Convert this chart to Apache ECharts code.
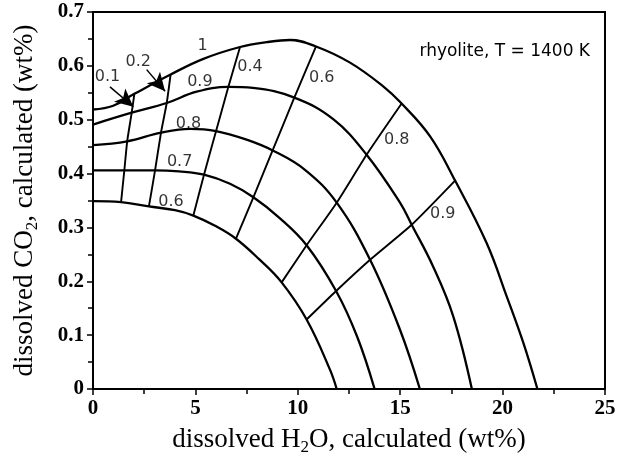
<!DOCTYPE html>
<html>
<head>
<meta charset="utf-8">
<script src="https://cdn.jsdelivr.net/npm/echarts@6/dist/echarts.min.js"></script>
<style>
  html, body { margin: 0; padding: 0; background: #fff; }
  #chart { width: 630px; height: 461px; }
</style>
</head>
<body>
<div id="chart"></div>
<script>
// Isobar labels (outer to inner) and isopleth labels (left to right)
const isobarNames = ['1', '0.9', '0.8', '0.7', '0.6'];
const isoplethNames = ['0.1', '0.2', '0.4', '0.6', '0.8', '0.9'];

// Grid nodes: where each isopleth crosses each isobar, [H2O wt%, CO2 wt%]
const nodes1  = [[2.02, 0.548], [3.79, 0.584], [7.18, 0.635], [10.89, 0.636], [15.07, 0.530], [17.68, 0.387]];
const nodes09 = [[1.89, 0.513], [3.60, 0.531], [6.61, 0.561], [9.83, 0.541], [13.36, 0.435], [15.56, 0.305]];
const nodes08 = [[1.67, 0.460], [3.32, 0.476], [6.01, 0.479], [8.77, 0.443], [11.90, 0.346], [13.53, 0.240]];
const nodes07 = [[1.53, 0.406], [3.03, 0.406], [5.42, 0.398], [7.83, 0.356], [10.43, 0.267], [11.87, 0.182]];
const nodes06 = [[1.37, 0.347], [2.73, 0.339], [4.90, 0.322], [6.98, 0.279], [9.21, 0.198], [10.43, 0.129]];

// Remaining points along each isobar, including both axis ends
const extra1  = [[0, 0.519], [0.99, 0.526], [5.39, 0.613], [8.48, 0.644], [9.62, 0.648], [12.55, 0.606],
                 [14.17, 0.562], [16.46, 0.469], [19.22, 0.271], [20.2, 0.172], [21.01, 0.086], [21.7, 0]];
const extra09 = [[0, 0.491], [5.06, 0.552], [7.81, 0.559], [11.73, 0.501], [14.99, 0.346], [16.6, 0.228],
                 [17.59, 0.135], [18.5, 0]];
const extra08 = [[0, 0.453], [4.74, 0.483], [7.5, 0.463], [10.35, 0.407], [14.99, 0.110], [15.96, 0]];
const extra07 = [[0, 0.406], [4.2, 0.404], [6.69, 0.381], [9.13, 0.317], [12.9, 0.097], [13.75, 0]];
const extra06 = [[0, 0.349], [4.0, 0.332], [5.96, 0.303], [8.11, 0.241], [11.57, 0.036], [11.9, 0]];

// Label anchor points [x, y] for isobars and isopleths
const isobarLabelPos = [[5.35, 0.637], [5.22, 0.571], [4.66, 0.493], [4.23, 0.421], [3.81, 0.347]];
const isoplethLabelPos = [[0.71, 0.579], [2.21, 0.607], [7.67, 0.599], [11.17, 0.578], [14.83, 0.463], [17.08, 0.326]];

// Pointer arrows from the 0.1 and 0.2 labels to their lines: [start, tip]
const arrows = [
  [[0.83, 0.561], [1.97, 0.524]],
  [[2.62, 0.593], [3.52, 0.553]]
];

const xTicks = { min: 0, max: 25, step: 5 };
const yTicks = { min: 0, max: 0.7, step: 0.1 };

const nodeRows = [nodes1, nodes09, nodes08, nodes07, nodes06];
const extraRows = [extra1, extra09, extra08, extra07, extra06];

const chart = echarts.init(document.getElementById('chart'), null, { renderer: 'canvas' });

const serif = "'Liberation Serif', 'Times New Roman', serif";
const sans = "'DejaVu Sans', 'Liberation Sans', Arial, sans-serif";

const series = [];

// Isobars: nodes plus intermediate points, ordered along H2O
nodeRows.forEach((row, i) => {
  const pts = row.concat(extraRows[i]).sort((a, b) => a[0] - b[0]);
  series.push({
    name: 'P ' + isobarNames[i],
    type: 'line',
    data: pts,
    smooth: 0.4,
    showSymbol: false,
    symbol: 'none',
    lineStyle: { color: '#000', width: 2.3 },
    z: 3
  });
});

// Isopleths: one node from each isobar, outer to inner
isoplethNames.forEach((nm, j) => {
  series.push({
    name: 'X ' + nm,
    type: 'line',
    data: nodeRows.map(r => r[j]),
    smooth: 0.2,
    showSymbol: false,
    symbol: 'none',
    lineStyle: { color: '#000', width: 1.9 },
    z: 3
  });
});

// Curve labels and pointer arrows
const labelData = isobarNames.map((n, i) => ({ name: n, value: isobarLabelPos[i] }))
  .concat(isoplethNames.map((n, j) => ({ name: n, value: isoplethLabelPos[j] })));

series.push({
  name: 'labels',
  type: 'scatter',
  data: labelData,
  symbol: 'circle',
  symbolSize: 1,
  itemStyle: { color: 'rgba(0,0,0,0)' },
  label: {
    show: true,
    position: 'inside',
    formatter: p => p.name,
    color: '#000',
    fontFamily: sans,
    fontSize: 16
  },
  markLine: {
    silent: true,
    symbol: ['none', 'arrow'],
    symbolSize: [13, 18],
    label: { show: false },
    lineStyle: { color: '#000', width: 1.5, type: 'solid' },
    data: arrows.map(a => [{ coord: a[0] }, { coord: a[1] }])
  },
  z: 4
});

chart.setOption({
  animation: false,
  backgroundColor: '#fff',
  grid: {
    left: 93, right: 25, top: 12, bottom: 72,
    show: true, borderColor: '#000', borderWidth: 2, backgroundColor: 'transparent'
  },
  xAxis: {
    type: 'value',
    min: xTicks.min, max: xTicks.max, interval: xTicks.step,
    name: 'dissolved H{s|2}O, calculated (wt%)',
    nameLocation: 'middle',
    nameGap: 33,
    nameTextStyle: {
      fontFamily: serif, fontSize: 27, color: '#000', lineHeight: 32,
      rich: { s: { fontFamily: serif, fontSize: 17, color: '#000', lineHeight: 17, verticalAlign: 'bottom' } }
    },
    axisLine: { lineStyle: { color: '#000', width: 2 } },
    axisTick: { length: 6, lineStyle: { color: '#000', width: 1.5 } },
    minorTick: { show: true, splitNumber: 2, length: 5, lineStyle: { color: '#000', width: 1.5 } },
    splitLine: { show: false },
    axisLabel: { color: '#000', fontFamily: serif, fontWeight: 'bold', fontSize: 21, margin: 9 }
  },
  yAxis: {
    type: 'value',
    min: yTicks.min, max: yTicks.max, interval: yTicks.step,
    name: 'dissolved CO{s|2}, calculated (wt%)',
    nameLocation: 'middle',
    nameGap: 52,
    nameTextStyle: {
      fontFamily: serif, fontSize: 27, color: '#000', lineHeight: 32,
      rich: { s: { fontFamily: serif, fontSize: 17, color: '#000', lineHeight: 17, verticalAlign: 'bottom' } }
    },
    axisLine: { lineStyle: { color: '#000', width: 2 } },
    axisTick: { length: 6, lineStyle: { color: '#000', width: 1.5 } },
    minorTick: { show: true, splitNumber: 2, length: 5, lineStyle: { color: '#000', width: 1.5 } },
    splitLine: { show: false },
    axisLabel: {
      color: '#000', fontFamily: serif, fontWeight: 'bold', fontSize: 21, margin: 9,
      formatter: v => (v === 0 ? '0' : v.toFixed(1))
    }
  },
  graphic: [{
    type: 'text',
    right: 40,
    top: 43,
    style: { text: 'rhyolite, T = 1400 K', font: '17px ' + sans, fill: '#000' }
  }],
  series: series
});
</script>
</body>
</html>
